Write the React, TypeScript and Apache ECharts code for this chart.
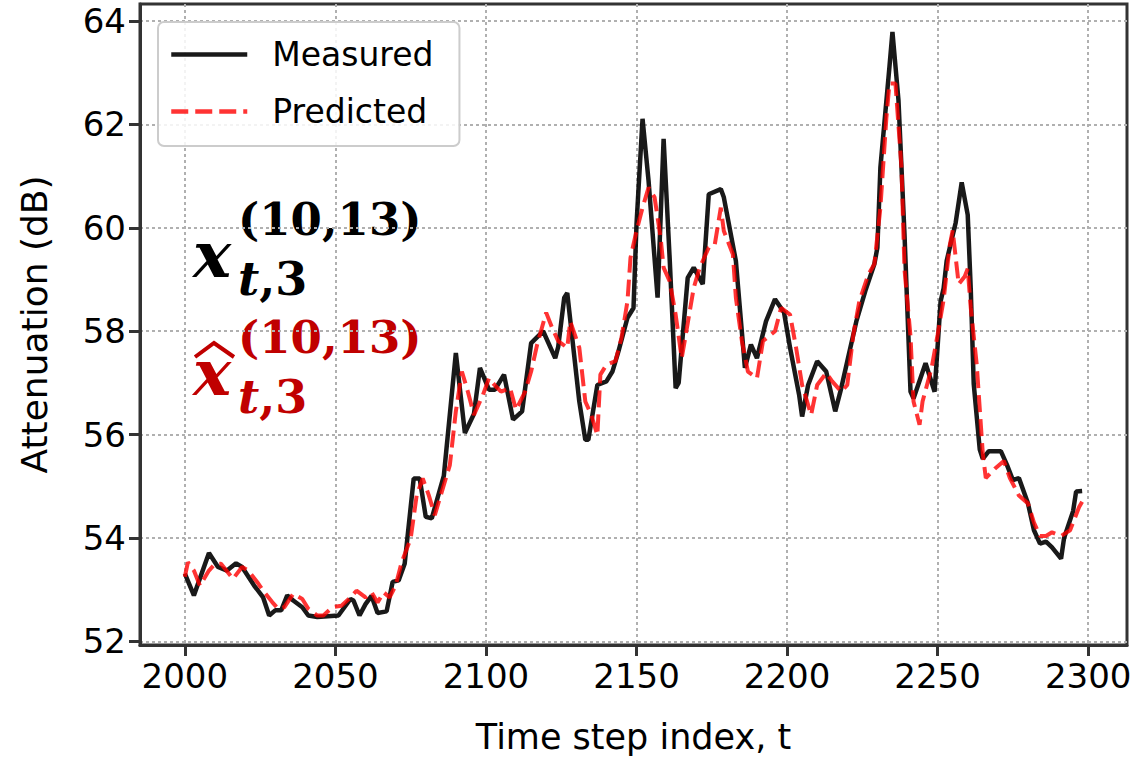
import React, { useEffect, useRef } from "react";
import * as echarts from "echarts";

const xTicks = [2000, 2050, 2100, 2150, 2200, 2250, 2300];
const yTicks = [52, 54, 56, 58, 60, 62, 64];

const measT = [2000, 2003, 2008, 2011, 2014, 2017, 2019, 2023, 2026, 2028, 2030, 2032, 2034, 2036, 2039, 2041, 2044, 2051, 2055, 2056, 2058, 2060, 2062, 2064, 2067, 2069, 2071, 2073, 2075, 2076, 2078, 2080, 2082, 2086, 2090, 2093, 2096, 2098, 2101, 2103, 2106, 2109, 2112, 2115, 2119, 2123, 2124, 2126, 2127, 2131, 2133, 2134, 2137, 2140, 2142, 2144, 2147, 2149, 2150, 2152, 2154, 2157, 2159, 2161, 2163, 2164, 2167, 2169, 2172, 2174, 2178, 2179, 2183, 2186, 2188, 2190, 2193, 2196, 2199, 2201, 2204, 2205, 2207, 2210, 2213, 2216, 2218, 2220, 2223, 2226, 2229, 2230, 2231, 2234, 2235, 2237, 2239, 2241, 2242, 2246, 2249, 2251, 2252, 2253, 2256, 2258, 2260, 2261, 2262, 2264, 2265, 2267, 2271, 2273, 2275, 2277, 2280, 2282, 2284, 2286, 2288, 2291, 2292, 2295, 2296, 2298];
const measV = [53.31, 52.89, 53.71, 53.44, 53.37, 53.51, 53.44, 53.08, 52.85, 52.5, 52.6, 52.6, 52.89, 52.79, 52.66, 52.5, 52.47, 52.5, 52.82, 52.79, 52.5, 52.72, 52.88, 52.55, 52.58, 53.15, 53.18, 53.5, 54.6, 55.15, 55.15, 54.41, 54.38, 55.2, 57.58, 56.03, 56.4, 57.29, 56.87, 56.87, 57.16, 56.29, 56.45, 57.77, 58.0, 57.48, 57.7, 58.65, 58.74, 56.64, 55.9, 55.9, 56.96, 57.03, 57.22, 57.61, 58.26, 58.45, 60.07, 62.11, 60.91, 58.65, 61.72, 59.42, 56.9, 57.0, 59.03, 59.23, 58.91, 60.65, 60.75, 60.59, 59.36, 57.29, 57.74, 57.48, 58.19, 58.62, 58.36, 57.68, 56.77, 56.35, 56.96, 57.42, 57.22, 56.45, 56.9, 57.42, 58.19, 58.78, 59.3, 59.62, 61.17, 63.11, 63.79, 62.47, 59.88, 56.83, 56.7, 57.38, 56.83, 58.58, 58.83, 59.36, 60.1, 60.88, 60.25, 58.83, 56.98, 55.71, 55.53, 55.68, 55.68, 55.42, 55.12, 55.16, 54.67, 54.15, 53.89, 53.93, 53.82, 53.6, 54.0, 54.52, 54.9, 54.91];

const predT = [2000, 2001, 2003, 2005, 2008, 2010, 2012, 2016, 2019, 2021, 2024, 2026, 2029, 2031, 2033, 2036, 2039, 2041, 2044, 2046, 2049, 2052, 2055, 2057, 2060, 2062, 2064, 2066, 2068, 2070, 2072, 2075, 2077, 2079, 2081, 2083, 2085, 2088, 2090, 2092, 2094, 2096, 2099, 2101, 2103, 2105, 2108, 2110, 2113, 2115, 2117, 2120, 2122, 2124, 2127, 2128, 2131, 2132, 2133, 2135, 2137, 2138, 2140, 2143, 2145, 2147, 2148, 2150, 2152, 2154, 2156, 2158, 2159, 2161, 2163, 2165, 2166, 2169, 2171, 2174, 2176, 2178, 2179, 2182, 2183, 2185, 2187, 2190, 2192, 2196, 2198, 2201, 2203, 2205, 2208, 2210, 2213, 2215, 2218, 2220, 2222, 2224, 2227, 2229, 2231, 2233, 2234, 2236, 2238, 2239, 2241, 2242, 2244, 2245, 2248, 2250, 2252, 2254, 2255, 2257, 2259, 2260, 2261, 2263, 2265, 2266, 2269, 2272, 2274, 2277, 2280, 2282, 2284, 2286, 2288, 2291, 2294, 2297, 2298];
const predV = [53.25, 53.53, 53.37, 53.08, 53.37, 53.5, 53.5, 53.21, 53.44, 53.37, 53.15, 52.98, 52.76, 52.63, 52.66, 52.92, 52.82, 52.63, 52.5, 52.5, 52.66, 52.69, 52.85, 52.98, 52.85, 52.95, 52.75, 52.95, 52.85, 53.08, 53.53, 53.99, 54.83, 55.15, 54.83, 54.44, 54.83, 55.41, 56.45, 57.22, 56.83, 56.38, 56.77, 57.09, 56.95, 56.83, 56.9, 56.48, 56.83, 57.22, 57.74, 58.36, 58.06, 57.81, 57.68, 58.19, 57.68, 57.16, 56.64, 56.38, 55.99, 57.16, 57.35, 57.42, 57.87, 58.58, 59.42, 59.94, 60.39, 60.78, 60.59, 59.81, 59.23, 58.97, 58.32, 57.48, 57.81, 58.84, 59.23, 59.62, 59.68, 60.39, 59.94, 59.49, 58.65, 57.81, 57.22, 57.09, 57.81, 58.0, 58.45, 58.32, 57.68, 56.96, 56.38, 56.96, 57.19, 57.03, 56.83, 56.96, 57.93, 58.58, 59.1, 59.3, 60.39, 62.14, 62.79, 62.79, 61.17, 59.2, 57.9, 56.64, 56.19, 56.64, 57.29, 57.93, 58.61, 59.65, 59.95, 58.91, 59.06, 59.21, 58.46, 57.35, 55.64, 55.16, 55.34, 55.49, 55.16, 54.82, 54.67, 54.3, 54.04, 54.04, 54.11, 54.04, 54.15, 54.6, 54.7];

const FONT = "DejaVu Sans";
const SERIF = "DejaVu Serif";

export default function App() {
  const ref = useRef<HTMLDivElement>(null);
  useEffect(() => {
    if (!ref.current) return;
    const chart = echarts.init(ref.current, undefined, { renderer: "svg" });
    const gridStyle = { color: "#b0b0b0", width: 2, type: [3, 3] as any };
    const annot = (dy: number, color: string) => [
      { type: "text", left: 193, top: 222 + dy, style: { text: "x", font: `italic bold 64px ${SERIF}`, fill: color } },
      { type: "text", left: 238, top: 197 + dy, style: { text: "(10,13)", font: `bold 45px ${SERIF}`, fill: color } },
      {
        type: "text", left: 238, top: 256 + dy,
        style: {
          text: "{t|t}{n|,3}", fill: color,
          rich: {
            t: { font: `italic bold 46px ${SERIF}`, fill: color },
            n: { font: `bold 46px ${SERIF}`, fill: color },
          },
        },
      },
    ];
    chart.setOption({
      animation: false,
      backgroundColor: "#ffffff",
      grid: {
        left: 140, right: 9, top: 4, bottom: 116,
        show: true, borderColor: "#333333", borderWidth: 3, backgroundColor: "transparent",
      },
      legend: {
        left: 158, top: 22, orient: "vertical",
        itemWidth: 76, itemHeight: 20, itemGap: 24,
        padding: [16, 26, 18, 11],
        backgroundColor: "rgba(255,255,255,0.85)",
        borderColor: "#cccccc", borderWidth: 2, borderRadius: 6,
        itemStyle: { opacity: 0 },
        lineStyle: { width: 4.5 },
        textStyle: { fontFamily: FONT, fontSize: 33, color: "#000", padding: [0, 0, 0, 20] },
        data: ["Measured", "Predicted"],
      },
      xAxis: {
        type: "value", min: 1985.1, max: 2312.9,
        name: "Time step index, t", nameLocation: "middle", nameGap: 74,
        nameTextStyle: { fontFamily: FONT, fontSize: 35, color: "#000" },
        axisLine: { show: true, lineStyle: { color: "#333333", width: 3 } },
        axisTick: { show: true, length: 11, lineStyle: { color: "#333333", width: 3 }, customValues: xTicks },
        axisLabel: { fontFamily: FONT, fontSize: 34, color: "#000", margin: 14, customValues: xTicks, formatter: (v: number) => String(v) },
        splitLine: { show: true, lineStyle: gridStyle },
      },
      yAxis: {
        type: "value", min: 51.93, max: 64.33,
        name: "Attenuation (dB)", nameLocation: "middle", nameGap: 88,
        nameTextStyle: { fontFamily: FONT, fontSize: 36, color: "#000" },
        axisLine: { show: true, lineStyle: { color: "#333333", width: 3 } },
        axisTick: { show: true, length: 11, lineStyle: { color: "#333333", width: 3 }, customValues: yTicks },
        axisLabel: { fontFamily: FONT, fontSize: 34, color: "#000", margin: 14, customValues: yTicks, formatter: (v: number) => String(v) },
        splitLine: { show: true, lineStyle: gridStyle },
      },
      series: [
        {
          name: "Measured", type: "line", symbol: "none",
          data: measT.map((t, i) => [t, measV[i]]),
          lineStyle: { color: "#000000", width: 4.5, opacity: 0.9 },
          itemStyle: { color: "#000000" }, z: 2,
        },
        {
          name: "Predicted", type: "line", symbol: "none",
          data: predT.map((t, i) => [t, predV[i]]),
          lineStyle: { color: "#ff0000", width: 4, type: [17, 7], opacity: 0.8 },
          itemStyle: { color: "#ff0000" }, z: 3,
        },
      ],
      graphic: [
        ...annot(0, "#000000"),
        ...annot(118, "#c00000"),
        { type: "polyline", shape: { points: [[195, 357], [214, 343], [234, 357]] }, style: { stroke: "#c00000", lineWidth: 4, fill: null } },
      ],
    });
    return () => chart.dispose();
  }, []);
  return <div ref={ref} style={{ width: 1136, height: 761, position: "absolute", left: 0, top: 0 }} />;
}
